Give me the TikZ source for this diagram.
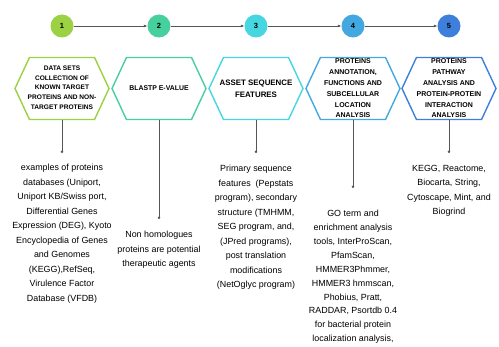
\documentclass[tikz,border=0pt]{standalone}
\usepackage{fontspec}
\setmainfont{Liberation Sans}
\usetikzlibrary{arrows.meta, shapes.symbols}

\definecolor{stepone}{HTML}{9BD143}
\definecolor{steptwo}{HTML}{45D09E}
\definecolor{stepthree}{HTML}{45D6E0}
\definecolor{stepfour}{HTML}{44A8E0}
\definecolor{stepfive}{HTML}{3F7FDC}
\definecolor{wire}{HTML}{555555}

\begin{document}
\begin{tikzpicture}[x=1pt, y=-1pt,
    num/.style={circle, fill=#1, minimum size=23pt, inner sep=0pt, font=\bfseries\fontsize{7.5}{8}\selectfont},
    hex/.style={signal, signal to=east and west, signal pointer angle=130, draw=#1, line width=1.4pt,
                minimum width=94pt, minimum height=62pt, inner sep=0pt},
    head/.style={align=center, inner sep=0pt, font=\bfseries\fontsize{6.6}{9.7}\selectfont},
    desc/.style={align=center, anchor=north, inner sep=0pt, font=\fontsize{8.9}{14.5}\selectfont},
    link/.style={-{Latex[length=3.5pt,width=3pt]}, draw=wire, line width=0.6pt},
    drop/.style={-{Circle[length=2.4pt]}, draw=wire, line width=0.6pt}]
  \useasboundingbox (0,0) rectangle (499,347);

  % Steps
  \node[num=stepone] (n1) at (62,26) {1};
  \node[num=steptwo] (n2) at (159,26) {2};
  \node[num=stepthree] (n3) at (256,26) {3};
  \node[num=stepfour] (n4) at (353,26) {4};
  \node[num=stepfive] (n5) at (449,26) {5};

  % Hexagons
  \node[hex=stepone] (h1) at (62,88.5) {};
  \node[hex=steptwo] (h2) at (159,88.5) {};
  \node[hex=stepthree] (h3) at (256,88.5) {};
  \node[hex=stepfour] (h4) at (353,88.5) {};
  \node[hex=stepfive] (h5) at (449,88.5) {};

  % Headings
  \node[head] (t1) at ([yshift=1pt]h1) {DATA SETS\\COLLECTION OF\\KNOWN TARGET\\PROTEINS AND NON-\\TARGET PROTEINS};
  \node[head, font=\bfseries\fontsize{6.9}{9.7}\selectfont] (t2) at (h2) {BLASTP E-VALUE};
  \node[head, font=\bfseries\fontsize{7.9}{12}\selectfont] (t3) at ([yshift=-0.5pt]h3) {ASSET SEQUENCE\\FEATURES};
  \node[head, font=\bfseries\fontsize{7}{10.8}\selectfont] (t4) at (h4) {PROTEINS\\ANNOTATION,\\FUNCTIONS AND\\SUBCELLULAR\\LOCATION\\ANALYSIS};
  \node[head, font=\bfseries\fontsize{7}{10.8}\selectfont] (t5) at (h5) {PROTEINS\\PATHWAY\\ANALYSIS AND\\PROTEIN-PROTEIN\\INTERACTION\\ANALYSIS};

  % Descriptions
  \node[desc] (d1) at (62,164) {examples of proteins\\databases (Uniport,\\Uniport KB/Swiss port,\\Differential Genes\\Expression (DEG), Kyoto\\Encyclopedia of Genes\\and Genomes\\(KEGG),RefSeq,\\Virulence Factor\\Database (VFDB)};
  \node[desc] (d2) at (159,231) {Non homologues\\proteins are potential\\therapeutic agents};
  \node[desc] (d3) at (256,165) {Primary sequence\\features~ (Pepstats\\program), secondary\\structure (TMHMM,\\SEG program, and,\\(JPred programs),\\post translation\\modifications\\(NetOglyc program)};
  \node[desc, font=\fontsize{8.9}{13.9}\selectfont] (d4) at (353,210) {GO term and\\enrichment analysis\\tools, InterProScan,\\PfamScan,\\HMMER3Phmmer,\\HMMER3 hmmscan,\\Phobius, Pratt,\\RADDAR, Psortdb 0.4\\for bacterial protein\\localization analysis,};
  \node[desc] (d5) at (449,165) {KEGG, Reactome,\\Biocarta, String,\\Cytoscape, Mint, and\\Biogrind};

  % Connectors
  \draw[link] (n1) -- (n2);
  \draw[link] (n2) -- (n3);
  \draw[link] (n3) -- (n4);
  \draw[link] (n4) -- (n5);
  \draw[drop, shorten >=11pt] (h1.south) -- (d1.north);
  \draw[drop, shorten >=12pt] (h2.south) -- (d2.north);
  \draw[drop, shorten >=12pt] (h3.south) -- (d3.north);
  \draw[drop, shorten >=22pt] (h4.south) -- (d4.north);
  \draw[drop, shorten >=12pt] (h5.south) -- (d5.north);
\end{tikzpicture}
\end{document}
